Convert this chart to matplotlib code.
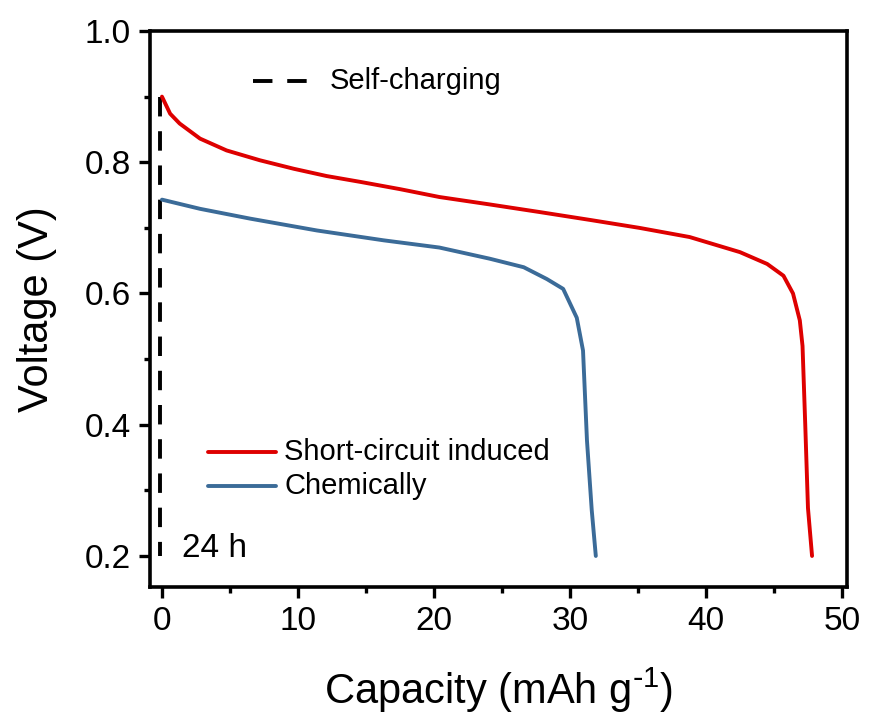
import matplotlib
matplotlib.use("Agg")
import matplotlib.pyplot as plt
from matplotlib.ticker import MultipleLocator, FuncFormatter

plt.rcParams['font.family'] = ['Liberation Sans', 'DejaVu Sans']
plt.rcParams['mathtext.default'] = 'regular'

# Discharge curves (capacity in mAh/g, voltage in V)
short_circuit_cap = [0.0, 0.6, 1.3, 2.8, 4.75, 7.2, 9.7, 12.1, 14.6, 17.5,
                     20.4, 24.0, 27.8, 31.5, 35.1, 38.8, 42.5, 44.5, 45.7,
                     46.4, 46.9, 47.1, 47.3, 47.5, 47.8]
short_circuit_v = [0.900, 0.874, 0.859, 0.836, 0.818, 0.803, 0.790, 0.779,
                   0.770, 0.759, 0.747, 0.736, 0.724, 0.712, 0.700, 0.686,
                   0.663, 0.645, 0.627, 0.600, 0.559, 0.520, 0.400, 0.273,
                   0.200]

chemical_cap = [0.0, 2.8, 6.5, 11.4, 16.3, 20.4, 24.1, 26.6, 28.3, 29.5,
                30.5, 30.96, 31.25, 31.6, 31.9]
chemical_v = [0.743, 0.729, 0.714, 0.696, 0.681, 0.670, 0.653, 0.640,
              0.622, 0.607, 0.563, 0.513, 0.376, 0.270, 0.200]

# Self-charging step over 24 h, drawn at the origin (top down)
self_charge_cap = [-0.15, -0.15]
self_charge_v = [0.90, 0.20]

RED = '#de0000'
BLUE = '#3b6b98'
LW = 2.8
DASH = (5, 3.8)

fig = plt.figure(figsize=(8.69, 7.15), dpi=100)
ax = fig.add_axes([150 / 869, 1 - 587 / 715, 697 / 869, 556 / 715])

ax.plot(self_charge_cap, self_charge_v, color='black', lw=LW,
        dashes=DASH, zorder=2)
ax.plot(short_circuit_cap, short_circuit_v, color=RED, lw=LW,
        solid_capstyle='round', solid_joinstyle='round', zorder=3)
ax.plot(chemical_cap, chemical_v, color=BLUE, lw=LW,
        solid_capstyle='round', solid_joinstyle='round', zorder=3)

# hand-drawn legend entries
ax.plot([6.7, 11.0], [0.924, 0.924], color='black', lw=LW, dashes=DASH)
ax.text(12.35, 0.924, "Self-charging", fontsize=21, va='center')
ax.plot([3.4, 8.4], [0.359, 0.359], color=RED, lw=LW, solid_capstyle='round')
ax.text(9.0, 0.359, "Short-circuit induced", fontsize=21, va='center')
ax.plot([3.4, 8.4], [0.306, 0.306], color=BLUE, lw=LW, solid_capstyle='round')
ax.text(9.0, 0.306, "Chemically", fontsize=21, va='center')
ax.text(1.5, 0.212, "24 h", fontsize=24, va='center')

ax.set_xlim(-0.88, 50.37)
ax.set_ylim(0.1527, 1.0)
ax.xaxis.set_major_locator(MultipleLocator(10))
ax.xaxis.set_minor_locator(MultipleLocator(5))
ax.yaxis.set_major_locator(MultipleLocator(0.2))
ax.yaxis.set_minor_locator(MultipleLocator(0.1))
ax.yaxis.set_major_formatter(FuncFormatter(lambda v, _: "{:.1f}".format(v)))

for side in ax.spines.values():
    side.set_linewidth(2.6)
ax.tick_params(which='major', direction='out', length=8, width=2.4,
               labelsize=24, pad=6)
ax.tick_params(which='minor', direction='out', length=4.5, width=2.4)

ax.set_xlabel(r"Capacity (mAh g$^{\text{-}1}$)", fontsize=30, labelpad=20)
ax.set_ylabel("Voltage (V)", fontsize=30, labelpad=20)

fig.savefig("out.png", dpi=100)
